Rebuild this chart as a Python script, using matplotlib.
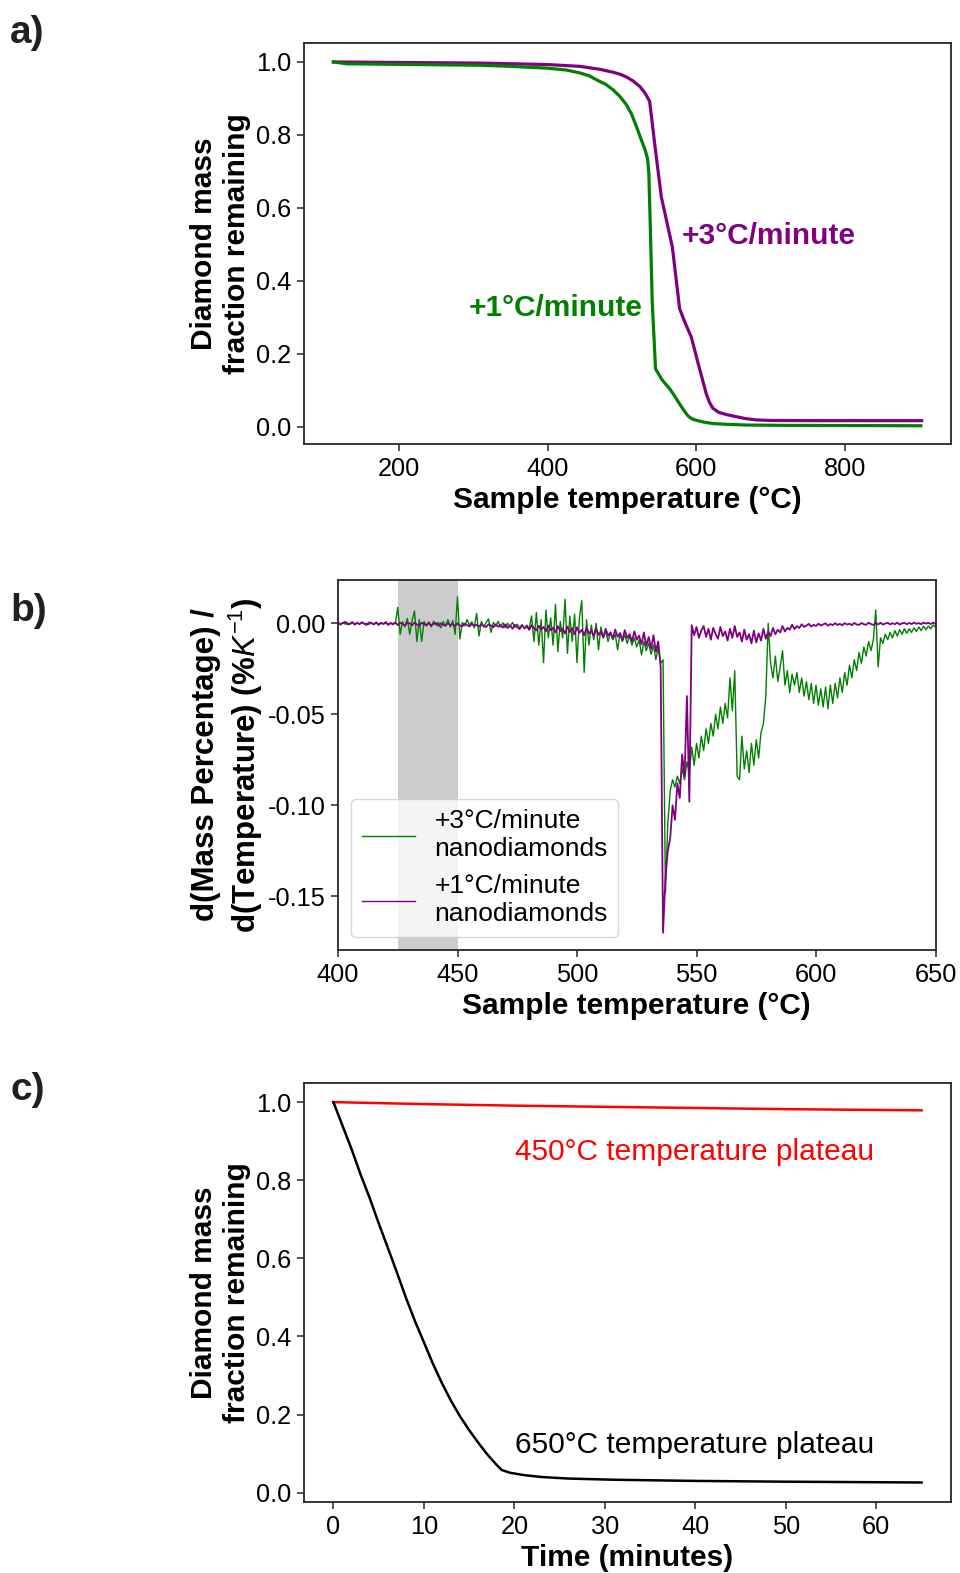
import numpy as np
import matplotlib
matplotlib.use("Agg")
import matplotlib.pyplot as plt

plt.rcParams['font.family'] = ['Liberation Sans', 'DejaVu Sans']
plt.rcParams['mathtext.fontset'] = 'custom'
plt.rcParams['mathtext.rm'] = 'Liberation Sans'
plt.rcParams['mathtext.it'] = 'Liberation Sans:italic'
plt.rcParams['mathtext.bf'] = 'Liberation Sans:bold'
plt.rcParams['axes.unicode_minus'] = False

# ---- panel a: mass fraction vs sample temperature ----
a_temp_3 = [112, 309, 400, 443.5, 470, 488, 498, 506, 515, 524, 531, 537.3, 544, 553,
            567.8, 577.6, 585, 593.3, 603, 613.5, 618, 622.3, 630, 640, 649, 665, 680.6,
            700, 750, 903]
a_mass_3 = [1.0, 0.997, 0.993, 0.988, 0.980, 0.972, 0.966, 0.959, 0.948, 0.933, 0.915,
            0.892, 0.777, 0.630, 0.493, 0.324, 0.285, 0.246, 0.170, 0.090, 0.066, 0.051,
            0.040, 0.034, 0.030, 0.023, 0.019, 0.0175, 0.017, 0.017]
a_temp_1 = [112, 130, 309, 350, 400, 425, 443.5, 456, 466, 478, 488, 497, 506, 513,
            519.5, 526, 531, 534.5, 536.2, 538.4, 540.7, 545.2, 549, 553.3, 558, 564.4,
            571, 577.8, 583, 588.9, 594, 600, 610, 622.4, 640, 667, 720, 902]
a_mass_1 = [1.0, 0.995, 0.991, 0.988, 0.983, 0.978, 0.970, 0.962, 0.951, 0.939, 0.924,
            0.906, 0.883, 0.857, 0.823, 0.787, 0.760, 0.735, 0.695, 0.53, 0.346, 0.159,
            0.146, 0.131, 0.119, 0.104, 0.084, 0.062, 0.046, 0.030, 0.022, 0.018, 0.013,
            0.009, 0.007, 0.005, 0.004, 0.003]

# ---- panel b: derivative, sampled every 1 degC from 400 to 650 (values in 1e-3 %/K) ----
b_temp = np.arange(400, 651, 1)
b_deriv_3 = [
    0, -0.5, 0.3, -0.4, 0.2, -0.6, 0.4, -0.3, 0.1, -0.5,            # 400
    0.5, -0.2, 0, -0.6, 0.3, -0.4, 0.2, -0.5, 0.4, -0.3,            # 410
    0.1, -0.6, 0.3, -0.2, 0.0, 8.8, -6.0, 1.0, -2.0, 2.7,           # 420
    -6.0, 1.5, 6.8, -10.0, 2.0, -10.0, 1.0, -1.5, 0.8, -2.0,        # 430
    1.2, -1.0, 0.5, -2.5, 1.0, -1.5, 2.0, -2.0, 1.5, -6.0,          # 440
    14.6, -8.6, 0.5, -1.5, 2.0, -1.0, 0.8, -2.5, 5.5, -7.0,         # 450
    1.0, -2.0, 0.5, 2.4, -5.0, 0.5, -1.5, 1.0, -2.0, 0.3,           # 460
    -2.5, 0.0, -1.8, 0.5, -2.2, -0.5, -2.5, -0.8, -2.8, -1.0,       # 470
    -3.0, 4.0, -10.0, 6.0, -12.0, 2.0, -21.6, 7.3, -8.0, 3.0,       # 480
    -12.0, 10.4, -15.6, 1.0, -8.0, 13.2, -16.5, 4.0, -10.0, 5.0,    # 490
    -21.6, 3.0, 12.4, -27.0, 2.0, -12.0, -1.0, -9.0, 0.0, -14.6,    # 500
    -2.0, -8.0, -4.0, -10.0, -5.0, -9.0, -6.0, -14.6, -5.5, -10.0,  # 510
    -6.5, -11.0, -7.0, -12.0, -8.0, -13.0, -9.0, -17.4, -10.0, -15.0,  # 520
    -11.0, -17.0, -12.0, -20.0, -13.0, -22.0, -20.0, -148.0, -110.0, -92.0,  # 530
    -86, -90, -84, -88, -80, -86, -76, -82, -68, -78,               # 540
    -66, -74, -62, -70, -58, -66, -55, -62, -50, -58,               # 550
    -46, -55, -44, -52, -30, -48, -26, -84, -86, -62,               # 560
    -80, -70, -82, -66, -78, -64, -74, -60, -55, -40,               # 570
    0.0, -22, -30, -18, -32, -24, -15, -34, -26, -38,               # 580
    -28, -34, -27, -38, -30, -40, -32, -42, -33, -44,               # 590
    -34, -45, -36, -46, -35, -47, -34, -44, -33, -41,               # 600
    -30, -38, -27, -34, -23, -30, -20, -26, -16, -22,               # 610
    -13, -18, -10, -15, -9, 7.3, -24, -8, -11, -6,                  # 620
    -9, -5, -8, -4, -7, -3.5, -6, -3, -5.5, -3,                     # 630
    -5, -2.5, -4.5, -2, -4, -1.5, -3.5, -1.5, -3, -1,               # 640
    -2,                                                             # 650
]
b_deriv_1 = [
    0.6, -0.7, 0.2, 0.8, -0.6, -0.2, 0.7, -0.8, 0.4, -0.5,          # 400
    0.6, -0.3, -0.9, 0.5, 0.1, -0.7, 0.6, -0.9, 0.2, -0.4,          # 410
    0.7, -0.9, 0.1, -0.6, 0.5, -1.0, 0.3, -0.4, -1.1, 0.4,          # 420
    0.0, -1.1, 0.4, -0.7, -1.2, 0.3, -0.5, -1.0, 0.2, -1.2,         # 430
    -0.3, 0.2, -1.4, 0.0, -0.9, -1.3, 0.1, -1.1, -0.4, -1.5,        # 440
    0.0, -1.2, -1.6, -0.2, -1.0, -1.7, -0.3, -1.4, -0.8, -1.9,      # 450
    -0.4, -1.6, -2.0, -0.5, -1.2, -2.2, -0.6, -1.9, -1.0, -2.4,     # 460
    -0.5, -2.6, -1.2, -3.0, -0.8, -2.2, -3.2, -1.0, -2.8, -1.6,     # 470
    -3.6, -1.0, -2.6, -4.0, -1.4, -3.4, -2.0, -4.4, -1.2, -3.8,     # 480
    -2.4, -5.0, -1.6, -4.2, -3.0, -5.6, -1.8, -4.8, -2.6, -6.0,     # 490
    -2.2, -5.2, -3.6, -6.6, -2.4, -5.6, -4.0, -7.0, -2.8, -6.4,     # 500
    -4.4, -7.8, -3.0, -6.8, -5.0, -8.4, -3.4, -7.4, -5.4, -9.2,     # 510
    -3.8, -8.0, -6.0, -10.0, -4.4, -9.0, -6.8, -11.6, -5.0, -12.4,  # 520
    -7.5, -14.0, -6.5, -15.5, -10.0, -24.0, -170.0, -140.0, -125.0, -118.0,  # 530
    -100, -108, -88, -96, -72, -84, -40, -98, -1.0, -6.5,           # 540
    -2.0, -8.0, -4.0, -1.5, -7.5, -3.0, -9.0, -2.5, -6.0, -8.5,     # 550
    -2.0, -7.0, -4.5, -9.5, -3.0, -8.0, -1.5, -7.5, -5.0, -10.0,    # 560
    -3.5, -9.0, -6.0, -11.0, -4.0, -10.5, -5.5, -9.5, -3.0, -8.5,   # 570
    -4.5, -7.0, -2.5, -6.0, -3.5, -5.0, -1.5, -4.5, -2.5, -3.5,     # 580
    -0.8, -3.2, -1.5, -2.6, -0.5, -2.0, -1.2, -0.3, -1.8, -0.8,     # 590
    -1.5, -0.2, -1.2, -0.6, 0.0, -1.3, -0.4, -1.0, 0.1, -0.9,       # 600
    -0.3, -1.1, 0.1, -0.7, -0.2, -1.0, 0.2, -0.6, -0.9, 0.2,        # 610
    -0.5, -0.8, 0.3, -0.4, -0.9, 0.2, -0.6, 0.3, -0.7, -0.1,        # 620
    0.3, -0.6, 0.1, -0.5, 0.4, -0.7, 0.0, 0.3, -0.5, 0.2,           # 630
    -0.4, 0.4, -0.3, 0.1, -0.5, 0.4, -0.2, 0.3, -0.4, 0.4,          # 640
    -0.3,                                                           # 650
]
b_span = (425, 450)

# ---- panel c: isothermal plateaus ----
c_time_450 = [0, 10, 20, 30, 40, 50, 65]
c_mass_450 = [1.0, 0.995, 0.991, 0.988, 0.985, 0.982, 0.979]
c_time_650 = [0, 1, 2, 3, 4, 5, 6, 7, 8, 9, 10, 11, 12, 13, 14, 15, 16, 17, 18, 18.6,
              19.5, 21, 23, 26, 31, 40, 50, 65]
c_mass_650 = [1.0, 0.94, 0.88, 0.815, 0.755, 0.69, 0.628, 0.565, 0.50, 0.44, 0.385,
              0.33, 0.28, 0.235, 0.195, 0.16, 0.128, 0.098, 0.072, 0.058, 0.051, 0.045,
              0.040, 0.036, 0.033, 0.030, 0.028, 0.026]

W, H = 960, 1573
fig = plt.figure(figsize=(W / 100, H / 100), dpi=100)

def box(l, t, r, b):
    return [l / W, 1 - b / H, (r - l) / W, (b - t) / H]

tick_fs = 18.3
lab_fs = 21.5

def style(ax):
    for s in ax.spines.values():
        s.set_color('#262626')
        s.set_linewidth(1.3)
    ax.tick_params(labelsize=tick_fs, length=5, width=1.1, color='#262626', pad=4)

# panel a
ax1 = fig.add_axes(box(304, 43, 951, 444))
ax1.plot(a_temp_3, a_mass_3, color='purple', lw=2.3)
ax1.plot(a_temp_1, a_mass_1, color='green', lw=2.3)
ax1.set_xticks([200, 400, 600, 800])
ax1.set_yticks([0.0, 0.2, 0.4, 0.6, 0.8, 1.0])
ax1.set_ylim(-0.047, 1.052)
ax1.set_xlabel('Sample temperature (°C)', fontsize=lab_fs, fontweight='bold')
ax1.set_ylabel('Diamond mass\nfraction remaining', fontsize=lab_fs, fontweight='bold')
ax1.text(581, 0.522, '+3°C/minute', color='purple', fontsize=lab_fs, fontweight='bold',
         ha='left', va='center')
ax1.text(528, 0.325, '+1°C/minute', color='green', fontsize=lab_fs, fontweight='bold',
         ha='right', va='center')
style(ax1)

# panel b
ax2 = fig.add_axes(box(338, 580, 935.5, 950))
ax2.axvspan(b_span[0], b_span[1], color='gray', alpha=0.4, lw=0)
ax2.plot(b_temp, np.array(b_deriv_3) * 1e-3, color='green', lw=1.0,
         label='+3°C/minute\nnanodiamonds')
ax2.plot(b_temp, np.array(b_deriv_1) * 1e-3, color='purple', lw=1.3,
         label='+1°C/minute\nnanodiamonds')
ax2.set_xlim(400, 650)
ax2.set_ylim(-0.1795, 0.0238)
ax2.set_xticks([400, 450, 500, 550, 600, 650])
ax2.set_yticks([0.0, -0.05, -0.10, -0.15])
ax2.set_yticklabels(['0.00', '-0.05', '-0.10', '-0.15'])
ax2.set_xlabel('Sample temperature (°C)', fontsize=lab_fs, fontweight='bold')
ax2.set_ylabel('d(Mass Percentage) /\nd(Temperature) (%$K^{-1}$)', fontsize=22.5,
               fontweight='bold', labelpad=2)
leg = ax2.legend(loc='lower left', fontsize=19, handlelength=2.0, borderpad=0.4,
                 labelspacing=0.5, handletextpad=0.75)
for h in leg.get_lines():
    h.set_linewidth(1.0)
style(ax2)

# panel c
ax3 = fig.add_axes(box(304, 1083, 951, 1502))
ax3.plot(c_time_450, c_mass_450, color='red', lw=1.8)
ax3.plot(c_time_650, c_mass_650, color='black', lw=1.8)
ax3.set_xticks([0, 10, 20, 30, 40, 50, 60])
ax3.set_yticks([0.0, 0.2, 0.4, 0.6, 0.8, 1.0])
ax3.set_ylim(-0.024, 1.049)
ax3.set_xlabel('Time (minutes)', fontsize=lab_fs, fontweight='bold')
ax3.set_ylabel('Diamond mass\nfraction remaining', fontsize=lab_fs, fontweight='bold')
ax3.text(20.1, 0.873, '450°C temperature plateau', color='red', fontsize=lab_fs,
         ha='left', va='center')
ax3.text(20.1, 0.122, '650°C temperature plateau', color='black', fontsize=lab_fs,
         ha='left', va='center')
style(ax3)

for lbl, yb in [('a)', 43), ('b)', 621), ('c)', 1100)]:
    fig.text(10 / W, 1 - yb / H, lbl, fontsize=28, fontweight='bold', color='#231f20',
             ha='left', va='baseline')

fig.savefig('out.png', dpi=100)
